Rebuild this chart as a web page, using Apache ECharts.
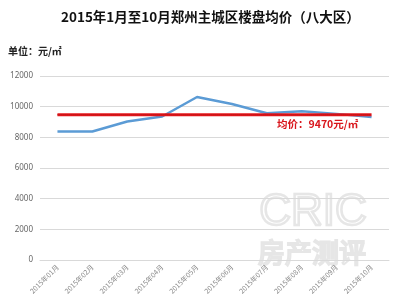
<!DOCTYPE html>
<html><head><meta charset="utf-8">
<script src="https://cdn.jsdelivr.net/npm/echarts@6/dist/echarts.min.js"></script>
<style>html,body{margin:0;padding:0;background:#fff}#c{width:400px;height:300px}</style>
</head><body><div id="c"></div>
<script>
const categories = ['2015年01月','2015年02月','2015年03月','2015年04月','2015年05月','2015年06月','2015年07月','2015年08月','2015年09月','2015年10月'];
const prices = [8380, 8380, 9030, 9360, 10630, 10170, 9570, 9700, 9530, 9320];
const avgPrice = 9470;
const avgLine = categories.map(() => avgPrice);
const yTicks = [0, 2000, 4000, 6000, 8000, 10000, 12000];

const chart = echarts.init(document.getElementById('c'), null, {renderer: 'canvas'});
chart.setOption({
  animation: false,
  backgroundColor: '#fff',
  title: {
    text: '2015年1月至10月郑州主城区楼盘均价（八大区）',
    left: 56, top: 5,
    textStyle: {fontFamily: 'Noto Sans CJK SC', fontSize: 13.5, fontWeight: 'bold', color: '#111'}
  },
  grid: {left: 40, right: 11, top: 76, bottom: 40, containLabel: false},
  xAxis: {
    type: 'category', data: categories, boundaryGap: true,
    axisLine: {lineStyle: {color: '#d9d9d9'}},
    axisTick: {show: false},
    axisLabel: {rotate: 45, fontSize: 7, color: '#888', fontFamily: 'Noto Sans CJK SC', margin: 6, interval: 0}
  },
  yAxis: {
    type: 'value', min: yTicks[0], max: yTicks[yTicks.length-1], interval: 2000,
    axisLine: {show: false}, axisTick: {show: false},
    axisLabel: {fontSize: 8, color: '#666', fontFamily: 'Noto Sans', margin: 7, formatter: v => String(v)},
    splitLine: {lineStyle: {color: '#d9d9d9'}}
  },
  graphic: [
    {type: 'text', left: 8, top: 46, style: {text: '单位：元/㎡', fontFamily: 'Noto Sans CJK SC', fontSize: 10, fontWeight: 'bold', fill: '#222'}},
    {type: 'text', left: 277, top: 119, style: {text: '均价：9470元/㎡', fontFamily: 'Noto Sans CJK SC', fontSize: 10.5, fontWeight: 'bold', fill: '#d9161c'}},
    {type: 'text', left: 258, top: 190, z: -1, style: {text: 'CRIC', fontFamily: 'Liberation Sans', fontSize: 44, fontWeight: 'normal', fill: 'rgba(255,255,255,0)', stroke: '#e6e6e6', lineWidth: 2.5}},
    {type: 'text', left: 257, top: 238, z: -1, style: {text: '房产测评', fontFamily: 'Noto Sans CJK SC', fontSize: 27, fill: 'rgba(255,255,255,0)', stroke: '#e6e6e6', lineWidth: 2}}
  ],
  series: [
    {type: 'line', data: prices, symbol: 'none', z: 3,
     lineStyle: {color: '#5b9bd5', width: 2.5}},
    {type: 'line', data: avgLine, symbol: 'none', z: 4,
     lineStyle: {color: '#e8171d', width: 3}},
    {type: 'line', data: avgLine, symbol: 'none', z: 5, silent: true,
     lineStyle: {color: '#a01010', width: 1, type: [1, 1]}}
  ]
});
</script></body></html>
